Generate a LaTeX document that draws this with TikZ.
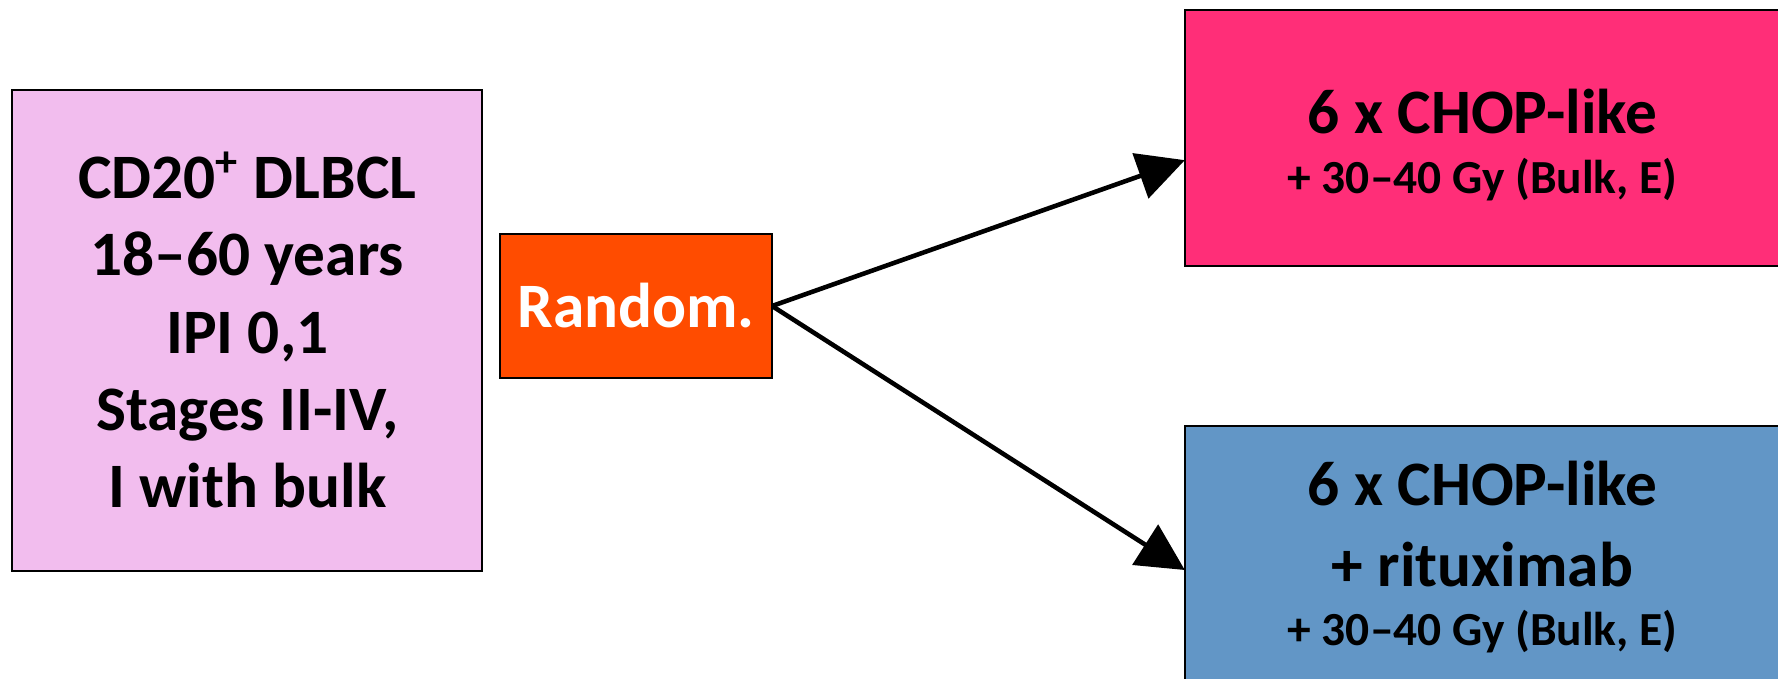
\documentclass[tikz,border=0pt]{standalone}
\usepackage{fontspec}
\usepackage{graphicx}
\setmainfont{Carlito}
\usetikzlibrary{arrows.meta}
\definecolor{lpink}{RGB}{242,189,238}
\definecolor{rorange}{RGB}{255,76,0}
\definecolor{hpink}{RGB}{255,46,120}
\definecolor{sblue}{RGB}{98,150,198}
\begin{document}
\begin{tikzpicture}[x=0.01cm,y=-0.01cm,
  box/.style={draw=black, line width=0.6pt, inner sep=0pt, outer sep=0pt, align=center},
  bigfont/.style={font=\fontsize{18}{22}\selectfont\bfseries},
  smallfont/.style={font=\fontsize{13.5}{17}\selectfont\bfseries},
  armtext/.style={smallfont, align=center, inner sep=0pt},
  conn/.style={line width=1.3pt, -{Triangle[length=13.4pt,width=13.4pt]}}]
\useasboundingbox (0,0) rectangle (1778,679);
\clip (0,0) rectangle (1778,679);
\node[box, bigfont, fill=lpink, minimum width=4.695cm, minimum height=4.81cm] (crit) at (247.25,330.2)
  {CD20\textsuperscript{+} DLBCL\\18–60 years\\IPI 0,1\\Stages II-IV,\\I with bulk};
\node[box, bigfont, fill=rorange, text=white, minimum width=2.72cm, minimum height=1.44cm] (rand) at (636,306) {Random.};
\node[box, fill=hpink, minimum width=5.95cm, minimum height=2.563cm] (armA) at (1482.5,138.15) {};
\node[armtext] (armAtxt) at ([yshift=-0.07cm]armA.center)
  {{\fontsize{18}{22}\selectfont 6 x CHOP-like}\\+ 30–40 Gy (Bulk, E)};
\node[box, fill=sblue, minimum width=5.95cm, minimum height=2.6cm] (armB) at (1482.5,556) {};
\node[armtext] (armBtxt) at ([yshift=-0.01cm]armB.center)
  {{\fontsize{18}{22}\selectfont 6 x CHOP-like}\\[6pt]{\fontsize{18}{22}\selectfont + rituximab}\\+ 30–40 Gy (Bulk, E)};
\draw[conn] (rand.east) -- ([yshift=-0.22cm]armA.west);
\draw[conn] (rand.east) -- ([yshift=-0.14cm]armB.west);
\end{tikzpicture}
\end{document}
